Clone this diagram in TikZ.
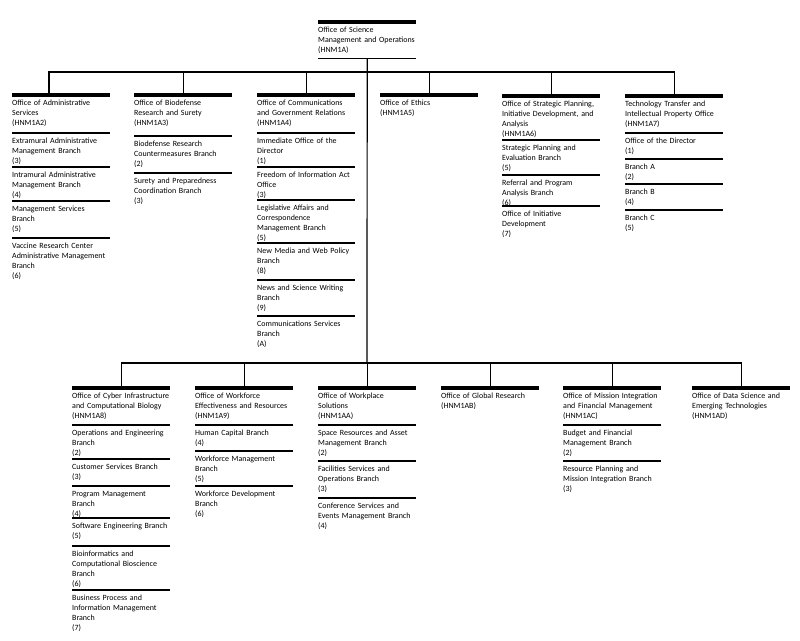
\documentclass[tikz,border=0pt]{standalone}
\usepackage{fontspec}
\setmainfont{Carlito}

\begin{document}
\begin{tikzpicture}[x=1bp, y=-1bp,
    unit/.style={anchor=north west, text width=98bp, align=left, inner xsep=0pt, inner ysep=5bp, font=\fontsize{8}{10}\selectfont},
    bar/.style={line width=4bp},
    rule/.style={line width=1.1bp},
    link/.style={line width=1.2bp}]
    \useasboundingbox (0,0) rectangle (800,641);
    % Top office
    \node[unit] (osmo) at (318,22) {Office of Science\\Management and Operations\\(HNM1A)};
    \coordinate (upbus) at (367,72);
    \coordinate (lowbus) at (367,363);
    % Upper row
    \node[unit] (oas) at (12,95) {Office of Administrative\\Services\\(HNM1A2)};
    \node[unit] (oas1) at (12,133) {Extramural Administrative\\Management Branch\\(3)};
    \node[unit] (oas2) at (12,167) {Intramural Administrative\\Management Branch\\(4)};
    \node[unit] (oas3) at (12,201) {Management Services\\Branch\\(5)};
    \node[unit] (oas4) at (12,238) {Vaccine Research Center\\Administrative Management\\Branch\\(6)};
    \node[unit] (obrs) at (134,95) {Office of Biodefense\\Research and Surety\\(HNM1A3)};
    \node[unit] (obrs1) at (134,136) {Biodefense Research\\Countermeasures Branch\\(2)};
    \node[unit] (obrs2) at (134,173) {Surety and Preparedness\\Coordination Branch\\(3)};
    \node[unit] (ocgr) at (257,95) {Office of Communications\\and Government Relations\\(HNM1A4)};
    \node[unit] (ocgr1) at (257,133) {Immediate Office of the\\Director\\(1)};
    \node[unit] (ocgr2) at (257,167) {Freedom of Information Act\\Office\\(3)};
    \node[unit] (ocgr3) at (257,200) {Legislative Affairs and\\Correspondence\\Management Branch\\(5)};
    \node[unit] (ocgr4) at (257,243) {New Media and Web Policy\\Branch\\(8)};
    \node[unit] (ocgr5) at (257,280) {News and Science Writing\\Branch\\(9)};
    \node[unit] (ocgr6) at (257,316) {Communications Services\\Branch\\(A)};
    \node[unit] (oe) at (380,95) {Office of Ethics\\(HNM1A5)};
    \node[unit] (ospa) at (502,96) {Office of Strategic Planning,\\Initiative Development, and\\Analysis\\(HNM1A6)};
    \node[unit] (ospa1) at (502,140) {Strategic Planning and\\Evaluation Branch\\(5)};
    \node[unit] (ospa2) at (502,175) {Referral and Program\\Analysis Branch\\(6)};
    \node[unit] (ospa3) at (502,206) {Office of Initiative\\Development\\(7)};
    \node[unit] (ttip) at (625,96) {Technology Transfer and\\Intellectual Property Office\\(HNM1A7)};
    \node[unit] (ttip1) at (625,133) {Office of the Director\\(1)};
    \node[unit] (ttip2) at (625,159) {Branch A\\(2)};
    \node[unit] (ttip3) at (625,184) {Branch B\\(4)};
    \node[unit] (ttip4) at (625,210) {Branch C\\(5)};
    % Lower row
    \node[unit] (ocicb) at (72,388) {Office of Cyber Infrastructure\\and Computational Biology\\(HNM1A8)};
    \node[unit] (ocicb1) at (72,425) {Operations and Engineering\\Branch\\(2)};
    \node[unit] (ocicb2) at (72,459) {Customer Services Branch\\(3)};
    \node[unit] (ocicb3) at (72,486) {Program Management\\Branch\\(4)};
    \node[unit] (ocicb4) at (72,518) {Software Engineering Branch\\(5)};
    \node[unit] (ocicb5) at (72,546) {Bioinformatics and\\Computational Bioscience\\Branch\\(6)};
    \node[unit] (ocicb6) at (72,590) {Business Process and\\Information Management\\Branch\\(7)};
    \node[unit] (ower) at (195,388) {Office of Workforce\\Effectiveness and Resources\\(HNM1A9)};
    \node[unit] (ower1) at (195,425) {Human Capital Branch\\(4)};
    \node[unit] (ower2) at (195,451) {Workforce Management\\Branch\\(5)};
    \node[unit] (ower3) at (195,486) {Workforce Development\\Branch\\(6)};
    \node[unit] (ows) at (318,388) {Office of Workplace\\Solutions\\(HNM1AA)};
    \node[unit] (ows1) at (318,425) {Space Resources and Asset\\Management Branch\\(2)};
    \node[unit] (ows2) at (318,461) {Facilities Services and\\Operations Branch\\(3)};
    \node[unit] (ows3) at (318,498) {Conference Services and\\Events Management Branch\\(4)};
    \node[unit] (ogr) at (441,388) {Office of Global Research\\(HNM1AB)};
    \node[unit] (omifm) at (563,388) {Office of Mission Integration\\and Financial Management\\(HNM1AC)};
    \node[unit] (omifm1) at (563,425) {Budget and Financial\\Management Branch\\(2)};
    \node[unit] (omifm2) at (563,461) {Resource Planning and\\Mission Integration Branch\\(3)};
    \node[unit] (odset) at (692,388) {Office of Data Science and\\Emerging Technologies\\(HNM1AD)};
    % Bars and rules
    \foreach \n in {osmo,oas,obrs,ocgr,oe,ospa,ttip,ocicb,ower,ows,ogr,omifm,odset}
        \draw[bar] (\n.north west) -- (\n.north east);
    \foreach \n in {oas1,oas2,oas3,oas4,obrs1,obrs2,ocgr1,ocgr2,ocgr3,ocgr4,ocgr5,ocgr6,ospa1,ospa2,ospa3,ttip1,ttip2,ttip3,ttip4,ocicb1,ocicb2,ocicb3,ocicb4,ocicb5,ocicb6,ower1,ower2,ower3,ows1,ows2,ows3,omifm1,omifm2}
        \draw[rule] (\n.north west) -- (\n.north east);
    \draw[rule] (osmo.south west) -- (osmo.south east);
    % Connectors
    \draw[link] (osmo.south) -- (lowbus);
    \draw[link] ([xshift=37bp]oas.north west) |- (upbus) -| (ttip.north);
    \foreach \n in {obrs,ocgr,oe,ospa}
        \draw[link] (\n.north) -- (\n.north |- upbus);
    \draw[link] (ocicb.north) |- (lowbus) -| (odset.north);
    \foreach \n in {ower,ows,ogr,omifm}
        \draw[link] (\n.north) -- (\n.north |- lowbus);
\end{tikzpicture}
\end{document}
